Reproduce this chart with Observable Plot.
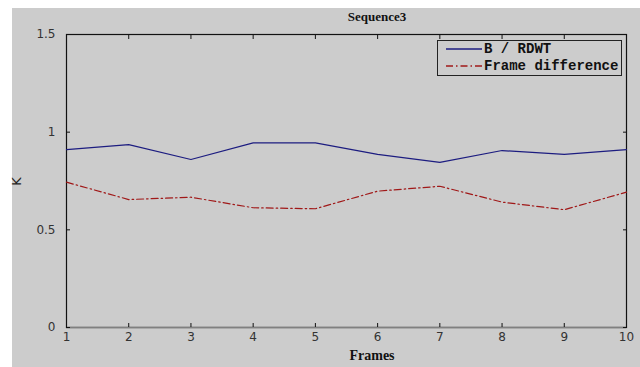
<!DOCTYPE html>
<html><head><meta charset="utf-8">
<script src="https://cdn.jsdelivr.net/npm/d3@7"></script>
<script src="https://cdn.jsdelivr.net/npm/@observablehq/plot@0.6"></script>
<style>
body{margin:0;background:#fff;}
#wrap{position:relative;width:640px;height:367px;overflow:hidden;}
#bg{position:absolute;left:12px;top:8px;width:628px;height:359px;background:#cccccc;}
#chart{position:absolute;left:0;top:0;}
#title{position:absolute;left:277px;width:200px;top:9px;text-align:center;font:bold 13px "Liberation Serif",serif;color:#111;}
#xlabel{position:absolute;left:272px;width:200px;top:348px;text-align:center;font:bold 14px "Liberation Serif",serif;color:#111;}
#ylabel{position:absolute;left:12px;top:174px;font:13px "DejaVu Sans",sans-serif;color:#222;transform:rotate(-90deg);transform-origin:center;}
#legend{position:absolute;left:437px;top:40px;width:183px;height:34px;border:1.5px solid #222;font:bold 14px "Liberation Mono",monospace;color:#111;}
#legend .row{position:absolute;left:8px;height:16px;display:flex;align-items:center;}
#legend svg{margin-right:2px;}
</style></head>
<body>
<div id="wrap">
<div id="bg"></div>
<div id="chart"></div>
<div id="title">Sequence3</div>
<div id="xlabel">Frames</div>
<div id="ylabel">K</div>
<div id="legend"></div>
</div>
<script>
const frames = [1,2,3,4,5,6,7,8,9,10];
const rdwt = [0.911,0.936,0.860,0.945,0.945,0.886,0.845,0.906,0.886,0.911];
const frameDiff = [0.744,0.655,0.667,0.613,0.608,0.698,0.723,0.642,0.603,0.693];
const seriesNames = ["B / RDWT","Frame difference"];
const yTicks = [0,0.5,1,1.5];
const colors = ["#1c1c80","#a01818"];
const dashes = [null,"7,3,1.5,3"];

const dataA = frames.map((f,i)=>({frame:f,k:rdwt[i]}));
const dataB = frames.map((f,i)=>({frame:f,k:frameDiff[i]}));

const plot = Plot.plot({
  width:640, height:367,
  marginLeft:66, marginRight:14, marginTop:34, marginBottom:40,
  style:{background:"transparent",fontFamily:"'DejaVu Sans',sans-serif",fontSize:"12px",color:"#333"},
  x:{domain:[1,10]},
  y:{domain:[0,1.5]},
  marks:[
    Plot.frame({stroke:"#111",strokeWidth:1.2}),
    Plot.ruleY([0],{stroke:"#808080",strokeWidth:1.5}),
    Plot.axisX({ticks:frames,tickFormat:d=>d,tickSize:-4,tickPadding:9,label:null,stroke:"#111",fill:"#333"}),
    Plot.axisX({anchor:"top",ticks:frames,tickFormat:()=>"",tickSize:-4,label:null,stroke:"#111"}),
    Plot.axisY({ticks:yTicks,tickFormat:d=>String(d),tickSize:-4,tickPadding:15,label:null,stroke:"#111",fill:"#333"}),
    Plot.axisY({anchor:"right",ticks:yTicks,tickFormat:()=>"",tickSize:-4,label:null,stroke:"#111"}),
    Plot.line(dataA,{x:"frame",y:"k",stroke:colors[0],strokeWidth:1.2}),
    Plot.line(dataB,{x:"frame",y:"k",stroke:colors[1],strokeWidth:1.2,strokeDasharray:dashes[1]})
  ]
});
document.getElementById("chart").appendChild(plot);

const leg = document.getElementById("legend");
seriesNames.forEach((n,i)=>{
  const row = document.createElement("div");
  row.className="row";
  row.style.top = (i===0? 0 : 17)+"px";
  row.innerHTML = `<svg width="36" height="10"><line x1="0" x2="36" y1="5" y2="5" stroke="${colors[i]}" stroke-width="1.3" ${dashes[i]?`stroke-dasharray="${dashes[i]}"`:""}/></svg><span>${n}</span>`;
  leg.appendChild(row);
});
</script>
</body></html>
